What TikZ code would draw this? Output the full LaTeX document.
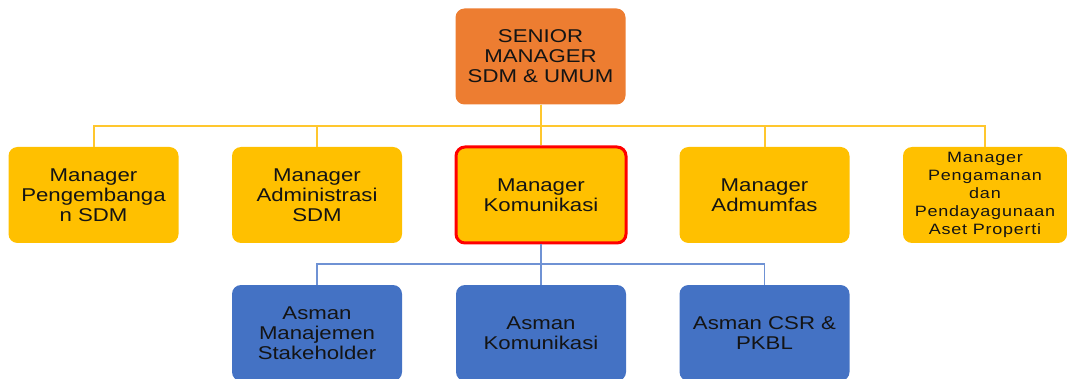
\documentclass[tikz,border=0pt]{standalone}
\usepackage{fontspec}
\setmainfont[FakeStretch=1.2]{Liberation Sans}
\newfontfamily\smallfont[FakeStretch=1.2,LetterSpace=5]{Liberation Sans}
\usetikzlibrary{calc}
\definecolor{HeadClr}{HTML}{ED7D31}
\definecolor{MgrClr}{HTML}{FFC000}
\definecolor{AsmClr}{HTML}{4472C4}
\definecolor{MgrLineClr}{HTML}{FFC72E}
\definecolor{AsmLineClr}{HTML}{6F92D4}
\definecolor{TxtClr}{HTML}{141414}

\begin{document}
\begin{tikzpicture}[x=1pt,y=-1pt,
  unit/.style={rectangle,rounded corners=9pt,minimum width=170pt,minimum height=96pt,
    inner sep=0pt,align=center,text=TxtClr,font=\fontsize{18.5}{20}\selectfont},
  head/.style={unit,fill=HeadClr},
  mgr/.style={unit,fill=MgrClr},
  asm/.style={unit,fill=AsmClr},
  mgrlink/.style={line width=2pt,color=MgrLineClr},
  asmlink/.style={line width=1.8pt,color=AsmLineClr}]
\useasboundingbox (0,0) rectangle (1067,379);

% Step 1.
\node[head] (SM) at (540.5,56.5) {SENIOR\\MANAGER\\SDM \& UMUM};

% Step 2.
\node[mgr] (MPS) at (93.5,195) {Manager\\Pengembanga\\n SDM};
\node[mgr] (MAS) at (317,195) {Manager\\Administrasi\\SDM};
\node[mgr,draw=red,line width=3pt] (MK) at (541,195) {Manager\\Komunikasi};
\node[mgr] (MA) at (764.5,195) {Manager\\Admumfas};
\node[mgr,minimum width=164pt,font=\smallfont\fontsize{15}{18}\selectfont] (MPP) at (985,195)
  {Manager\\Pengamanan\\dan\\Pendayagunaan\\Aset Properti};

% Step 3.
\node[asm] (AMS) at (317,333) {Asman\\Manajemen\\Stakeholder};
\node[asm] (AK) at (541,333) {Asman\\Komunikasi};
\node[asm] (ACP) at (764.5,333) {Asman CSR \&\\PKBL};

% Step 4.
\coordinate (MgrBus) at (0,126);
\coordinate (AsmBus) at (0,264);

\foreach \m in {MPS,MAS,MK,MA,MPP}
  \draw[mgrlink] (SM.south) -- (SM.south |- MgrBus) -| (\m.north);

\foreach \a in {AMS,AK,ACP}
  \draw[asmlink] (MK.south) -- (MK.south |- AsmBus) -| (\a.north);

\end{tikzpicture}
\end{document}
